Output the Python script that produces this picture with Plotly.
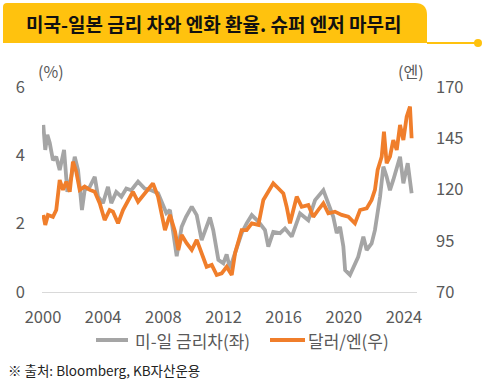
import plotly.graph_objects as go

# ---- data ----
spread_years = [2000.02, 2000.15, 2000.29, 2000.45, 2000.66, 2000.88, 2001.11, 2001.40, 2001.62, 2001.88,
                2002.11, 2002.33, 2002.44, 2002.59, 2002.77, 2003.11, 2003.44, 2003.66, 2003.99, 2004.32,
                2004.54, 2004.87, 2005.21, 2005.54, 2005.87, 2006.32, 2006.76, 2007.20, 2007.65, 2008.20,
                2008.44, 2008.89, 2009.22, 2009.51, 2009.89, 2010.22, 2010.55, 2010.84, 2011.10, 2011.32,
                2011.66, 2011.99, 2012.21, 2012.43, 2012.77, 2013.21, 2013.54, 2013.88, 2014.32, 2014.76,
                2014.98, 2015.31, 2015.76, 2016.09, 2016.54, 2017.09, 2017.64, 2018.09, 2018.64, 2018.97,
                2019.30, 2019.53, 2019.75, 2019.97, 2020.09, 2020.41, 2020.74, 2020.96, 2021.30, 2021.52,
                2021.85, 2022.07, 2022.41, 2022.63, 2022.85, 2023.07, 2023.29, 2023.74, 2023.96, 2024.25,
                2024.51]
spread_values = [4.89, 4.16, 4.60, 4.36, 3.86, 3.96, 3.57, 4.16, 2.93, 3.37,
                 3.96, 3.57, 3.08, 2.40, 2.98, 3.08, 3.37, 2.79, 2.60, 3.08,
                 2.60, 2.93, 2.79, 3.03, 2.98, 3.23, 3.03, 2.98, 2.89, 2.31,
                 2.40, 1.05, 1.91, 2.20, 2.50, 2.25, 1.52, 1.90, 2.18, 1.81,
                 0.94, 0.84, 1.10, 0.69, 1.13, 1.72, 2.01, 2.25, 2.06, 1.81,
                 1.33, 1.76, 1.72, 1.86, 1.62, 2.30, 2.10, 2.69, 2.98, 2.60,
                 2.20, 1.72, 1.91, 1.33, 0.64, 0.50, 0.84, 1.03, 1.62, 1.23,
                 1.42, 1.81, 2.79, 3.67, 3.37, 2.98, 3.28, 3.96, 3.18, 3.77,
                 2.89]

usdjpy_years = [2000.02, 2000.15, 2000.33, 2000.66, 2000.88, 2001.11, 2001.33, 2001.55, 2001.78, 2001.99,
                2002.21, 2002.44, 2002.77, 2003.11, 2003.44, 2003.77, 2004.10, 2004.43, 2004.65, 2004.99,
                2005.32, 2005.65, 2005.98, 2006.32, 2006.76, 2007.31, 2007.65, 2008.11, 2008.44, 2008.78,
                2009.00, 2009.22, 2009.55, 2009.89, 2010.22, 2010.55, 2010.88, 2011.22, 2011.55, 2011.88,
                2012.21, 2012.55, 2012.77, 2013.21, 2013.54, 2013.88, 2014.32, 2014.65, 2014.98, 2015.31,
                2015.64, 2015.98, 2016.20, 2016.42, 2016.87, 2017.20, 2017.64, 2017.97, 2018.30, 2018.64,
                2018.97, 2019.41, 2019.86, 2020.30, 2020.74, 2021.08, 2021.52, 2021.85, 2022.07, 2022.25,
                2022.52, 2022.67, 2022.85, 2023.07, 2023.29, 2023.52, 2023.74, 2023.96, 2024.18, 2024.40,
                2024.51]
usdjpy_values = [107.6, 102.7, 107.6, 106.7, 110.0, 124.6, 119.8, 123.8, 118.9, 133.6,
                 128.7, 119.8, 121.4, 119.8, 118.9, 113.3, 105.1, 110.0, 109.2, 103.5,
                 110.0, 114.9, 118.9, 114.0, 118.1, 123.0, 116.5, 100.2, 107.6, 99.4,
                 90.5, 97.8, 93.8, 90.5, 95.4, 88.9, 82.3, 83.2, 78.3, 79.1,
                 82.3, 78.3, 88.9, 100.2, 100.2, 103.5, 102.7, 114.9, 118.9, 123.0,
                 120.6, 118.1, 111.6, 103.5, 116.5, 111.6, 112.4, 106.7, 110.0, 113.3,
                 108.4, 109.2, 107.6, 106.7, 103.5, 110.0, 110.8, 114.9, 119.8, 129.5,
                 136.0, 148.2, 132.8, 136.0, 144.1, 139.3, 151.5, 144.1, 155.5, 160.4,
                 145.0]

x_ticks = [2000, 2004, 2008, 2012, 2016, 2020, 2024]
left_ticks = [0, 2, 4, 6]
right_ticks = [70, 95, 120, 145, 170]

title_text = "미국-일본 금리 차와 엔화 환율. 슈퍼 엔저 마무리"
spread_name = "미-일 금리차(좌)"
usdjpy_name = "달러/엔(우)"
source_text = "※ 출처: Bloomberg, KB자산운용"

# ---- layout geometry (pixels) ----
W, H = 491, 390
PL, PR, PT, PB = 42, 417, 87, 292
FONT = "Noto Sans CJK KR"
GRAY = "#A5A5A5"
ORANGE = "#F07E2B"
YELLOW = "#FFC20E"
TICK_COL = "#595959"


def px(x):
    return (x - PL) / (PR - PL)


def py(y):
    return (PB - y) / (PB - PT)


fig = go.Figure()
fig.add_trace(go.Scatter(x=spread_years, y=spread_values, mode="lines", name=spread_name,
                         line=dict(color=GRAY, width=3.8), yaxis="y", showlegend=False))
fig.add_trace(go.Scatter(x=usdjpy_years, y=usdjpy_values, mode="lines", name=usdjpy_name,
                         line=dict(color=ORANGE, width=3.8), yaxis="y2", showlegend=False))

x0 = 2000 + (PL - 43) / 15.04
x1 = 2000 + (PR - 43) / 15.04

# banner path with rounded top-right corner
bx0, bx1, by0, by1, r = 3, 427, 3, 43, 12
r2 = 4
path = (f"M {px(bx0)},{py(by1)} L {px(bx0)},{py(by0 + r2)} "
        f"Q {px(bx0)},{py(by0)} {px(bx0 + r2)},{py(by0)} "
        f"L {px(bx1 - r)},{py(by0)} Q {px(bx1)},{py(by0)} {px(bx1)},{py(by0 + r)} "
        f"L {px(bx1)},{py(by1)} Z")

LEG_Y = 340
shapes = [
    dict(type="path", xref="paper", yref="paper", path=path, fillcolor=YELLOW, line=dict(width=0), layer="below"),
    dict(type="line", xref="paper", yref="paper", x0=px(bx1), x1=px(478), y0=py(43), y1=py(43),
         line=dict(color=YELLOW, width=2)),
    dict(type="circle", xref="paper", yref="paper", x0=px(474), x1=px(482), y0=py(47), y1=py(39),
         fillcolor=YELLOW, line=dict(width=0)),
    # legend keys
    dict(type="line", xref="paper", yref="paper", x0=px(96), x1=px(128), y0=py(LEG_Y), y1=py(LEG_Y),
         line=dict(color=GRAY, width=4)),
    dict(type="line", xref="paper", yref="paper", x0=px(270), x1=px(305), y0=py(LEG_Y), y1=py(LEG_Y),
         line=dict(color=ORANGE, width=4)),
]

annotations = [
    dict(text=f"<b>{title_text}</b>", x=px(214), y=py(24), xref="paper", yref="paper", showarrow=False,
         xanchor="center", yanchor="middle", font=dict(family=FONT, size=19, color="#111111")),
    dict(text="(%)", x=px(51), y=py(71), xref="paper", yref="paper", showarrow=False,
         xanchor="center", yanchor="middle", font=dict(family=FONT, size=16, color=TICK_COL)),
    dict(text="(엔)", x=px(411), y=py(71), xref="paper", yref="paper", showarrow=False,
         xanchor="center", yanchor="middle", font=dict(family=FONT, size=16, color=TICK_COL)),
    dict(text=spread_name, x=px(133), y=py(LEG_Y), xref="paper", yref="paper", showarrow=False,
         xanchor="left", yanchor="middle", font=dict(family=FONT, size=17, color=TICK_COL)),
    dict(text=usdjpy_name, x=px(306), y=py(LEG_Y), xref="paper", yref="paper", showarrow=False,
         xanchor="left", yanchor="middle", font=dict(family=FONT, size=17, color=TICK_COL)),
    dict(text=source_text, x=px(6), y=py(370), xref="paper", yref="paper", showarrow=False,
         xanchor="left", yanchor="middle", font=dict(family=FONT, size=13.5, color="#222222")),
]

fig.update_layout(
    width=W, height=H,
    margin=dict(l=PL, r=W - PR, t=PT, b=H - PB, pad=0),
    paper_bgcolor="white", plot_bgcolor="white",
    font=dict(family=FONT, size=16, color=TICK_COL),
    xaxis=dict(range=[x0, x1], tickvals=x_ticks, ticktext=[str(t) for t in x_ticks],
               showgrid=False, zeroline=False, showline=True, linecolor="#D9D9D9", linewidth=1,
               ticks="", ticklabelstandoff=10, tickfont=dict(size=16.5, color=TICK_COL)),
    yaxis=dict(range=[0, 6], tickvals=left_ticks, showgrid=False, zeroline=False, showline=False,
               ticks="", ticklabelstandoff=16, tickfont=dict(size=16.5, color=TICK_COL)),
    yaxis2=dict(range=[70, 170], tickvals=right_ticks, overlaying="y", side="right", showgrid=False,
                zeroline=False, showline=False, ticks="", ticklabelstandoff=18,
                tickfont=dict(size=16.5, color=TICK_COL)),
    showlegend=False,
    shapes=shapes,
    annotations=annotations,
)

fig.write_html("out.html", config={"displayModeBar": False},
               post_script="document.body.style.margin='0';document.body.style.overflow='hidden';")
